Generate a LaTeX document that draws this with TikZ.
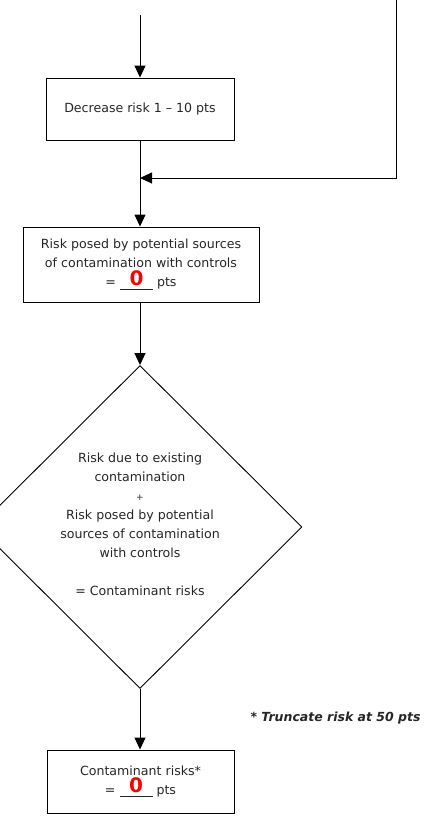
\documentclass[tikz,border=0pt]{standalone}
\usepackage{fontspec}
\setmainfont{DejaVu Sans}
\usetikzlibrary{arrows.meta,shapes.geometric}
\newcommand{\zeropts}{= \makebox[33pt]{\rlap{\rule[-2.5pt]{33pt}{0.6pt}}\makebox[33pt]{\raisebox{1.5pt}{\fontsize{20}{20}\selectfont\bfseries\color{red}0}}} pts}
\begin{document}
\begin{tikzpicture}[x=1pt,y=-1pt,
  every node/.style={font=\fontsize{12.6}{19}\selectfont, text=black!85},
  box/.style={draw, line width=0.9pt, align=center, inner sep=0pt},
  dia/.style={draw, line width=0.9pt, diamond, aspect=1, align=center, inner sep=0pt, minimum width=324pt, minimum height=323pt},
  arr/.style={line width=0.9pt, -{Triangle[width=11pt,length=12pt]}},
  ln/.style={line width=0.9pt}]
\useasboundingbox (0,0) rectangle (434,817);
\clip (0,0) rectangle (434,817);
\node[box, minimum width=188pt, minimum height=62pt] (b1) at (140,109) {Decrease risk 1 -- 10 pts};
\node[box, minimum width=236pt, minimum height=75pt] (b2) at (141,264.5) {Risk posed by potential sources\\of contamination with controls\\\zeropts};
\node[dia] (d) at (140,527) {};
\node[align=center] (dt) at (140,524.5) {Risk due to existing\\contamination\\{\fontsize{9}{9}\selectfont +}\\Risk posed by potential\\sources of contamination\\with controls\\\\= Contaminant risks};
\node[box, minimum width=187pt, minimum height=63pt] (b3) at (140.5,781.5) {Contaminant risks*\\\zeropts};
\node[anchor=west, font=\fontsize{12.5}{14}\selectfont\bfseries\itshape] (note) at (247,718) {* Truncate risk at 50 pts};
\coordinate (top) at (140,15);
\coordinate (r0) at (396,0);
\coordinate (r1) at (396,178);
\coordinate (j) at (140,178);
\draw[arr] (top) -- (b1.north);
\draw[arr] (r0) -- (r1) -- (j);
\draw[arr] (b1.south) -- (b2.north -| b1.south);
\draw[arr] (b2.south -| d.north) -- (d.north);
\draw[arr] (d.south) -- (b3.north -| d.south);
\end{tikzpicture}
\end{document}
